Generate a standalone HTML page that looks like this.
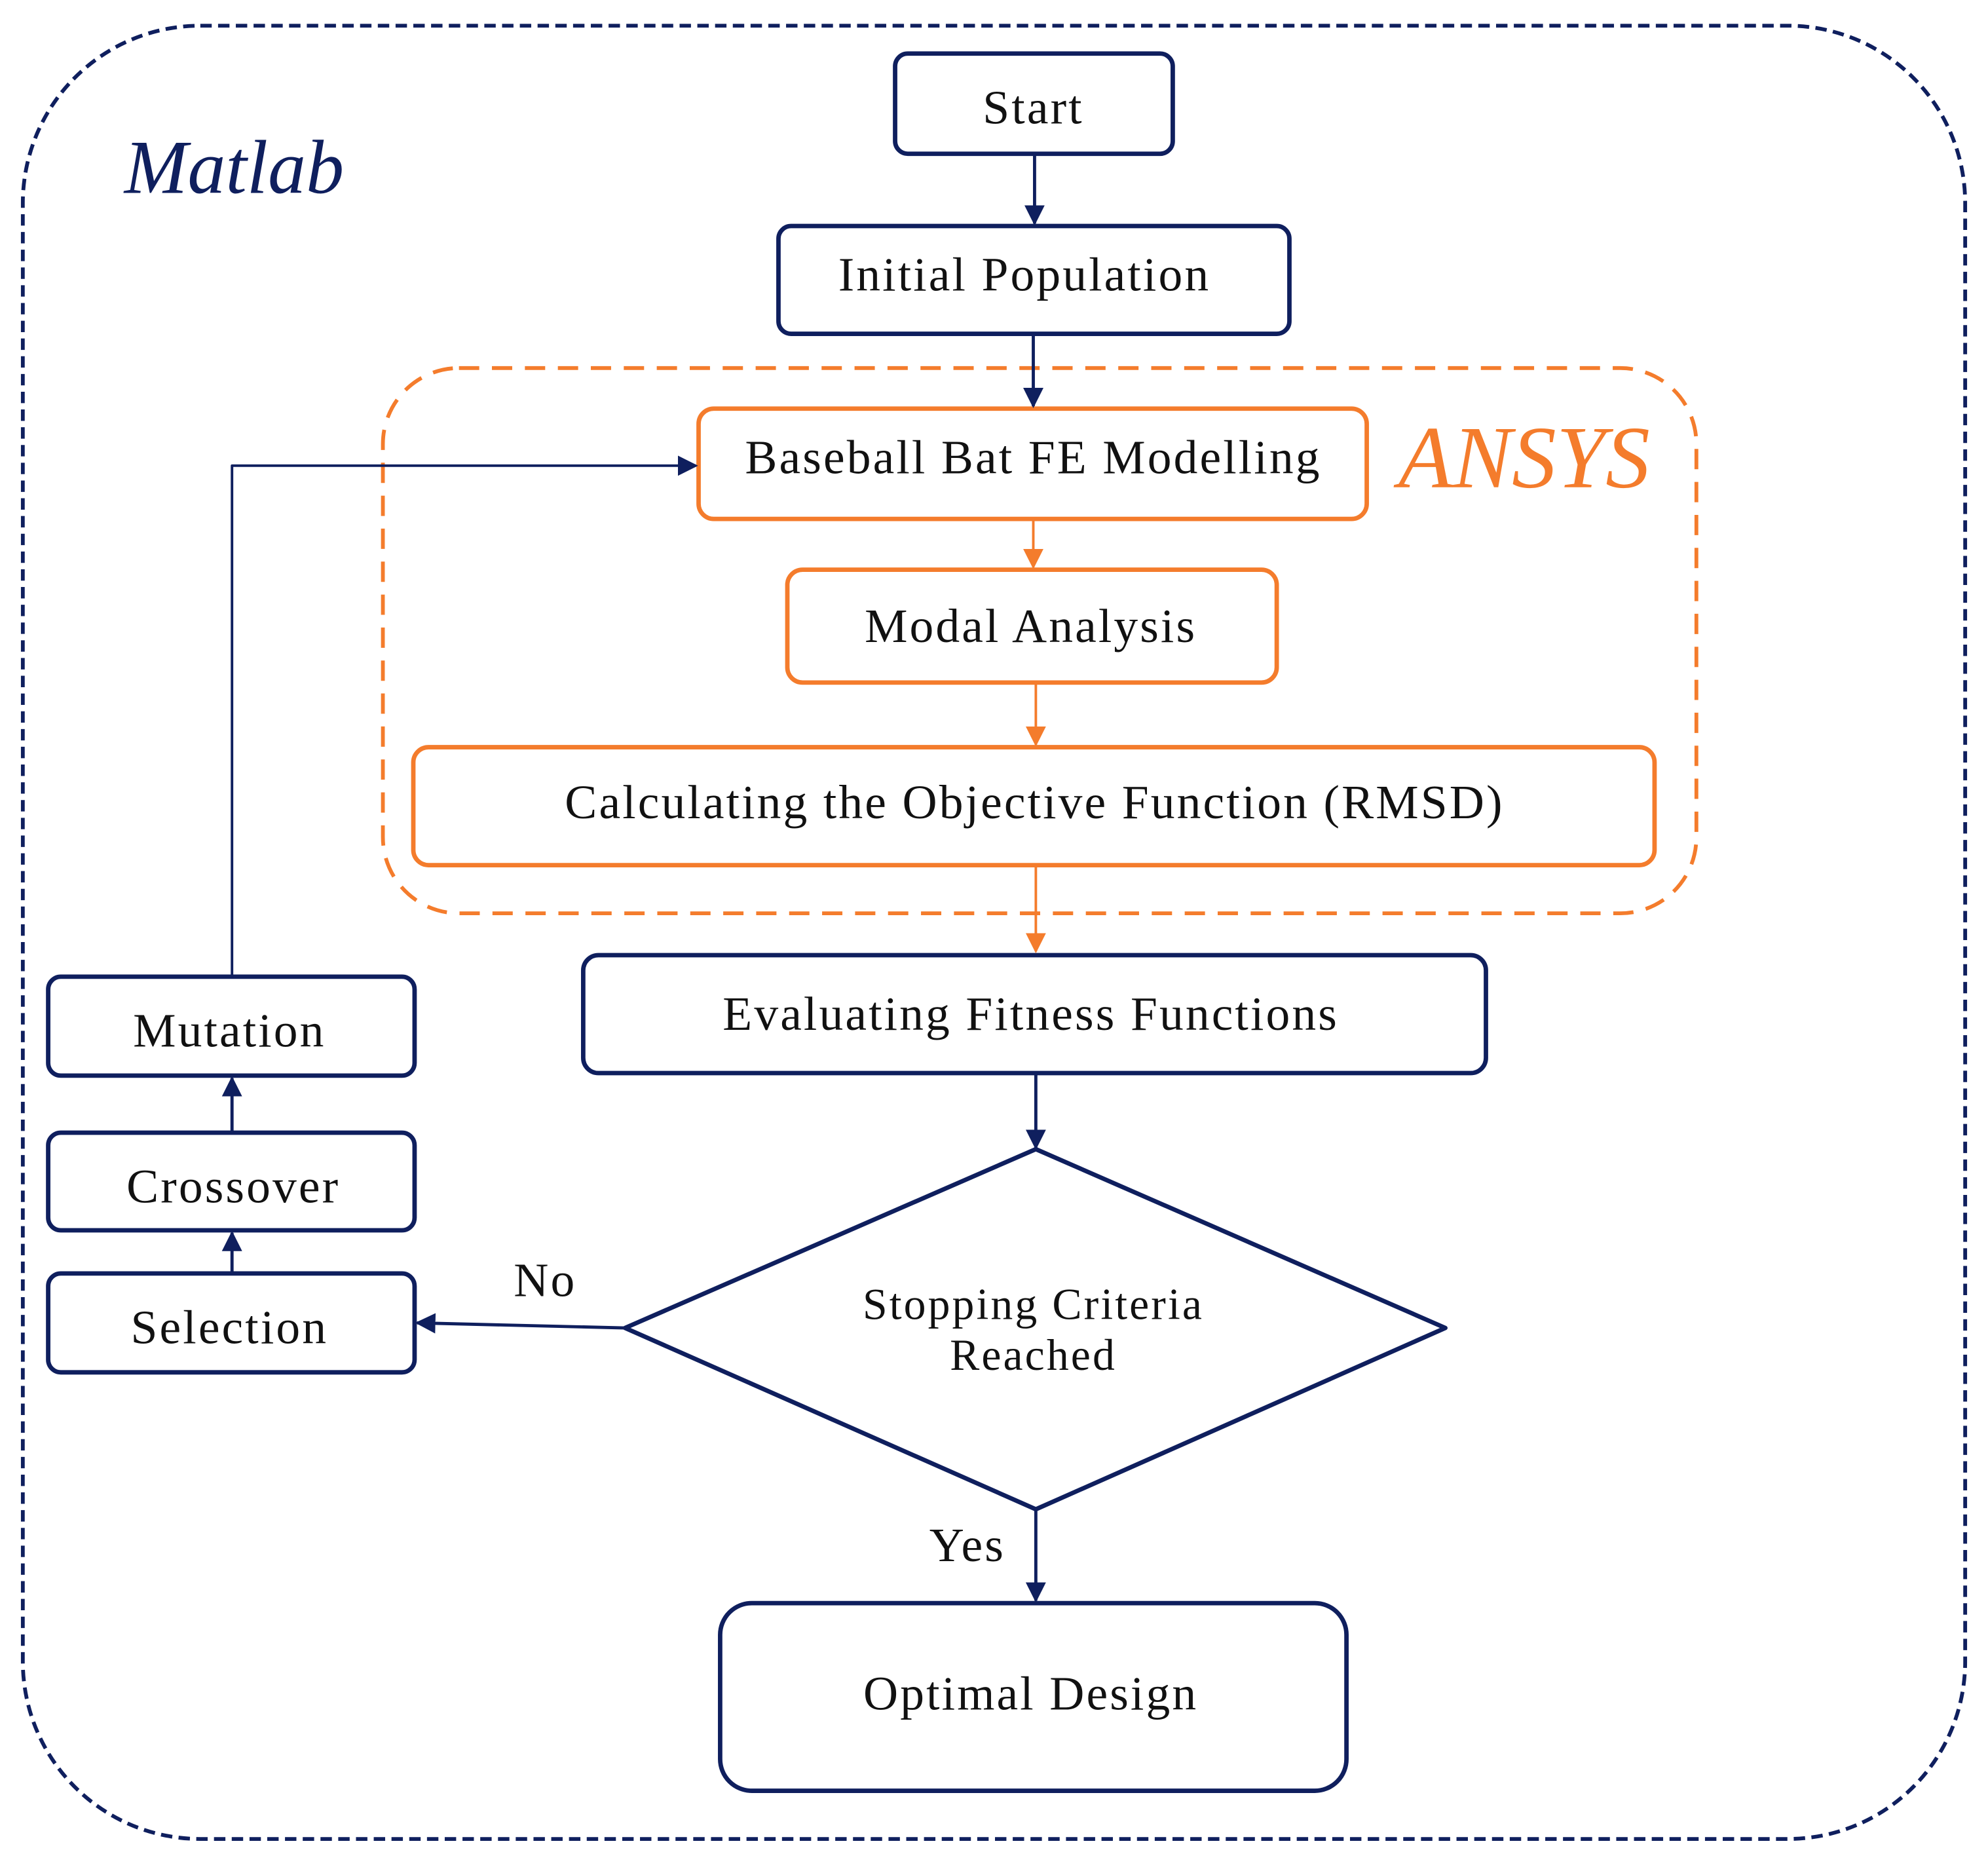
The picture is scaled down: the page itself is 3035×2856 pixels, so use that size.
<!DOCTYPE html>
<html><head><meta charset="utf-8"><style>html,body{margin:0;padding:0;background:#fff}svg{display:block}</style></head>
<body>
<svg width="3035" height="2856" viewBox="0 0 1568 1475" xmlns="http://www.w3.org/2000/svg" font-family="Liberation Serif, serif">
<defs>
<marker id="an" viewBox="0 0 10 10" refX="9" refY="5" markerWidth="16" markerHeight="16" orient="auto" markerUnits="userSpaceOnUse"><path d="M0,0 L10,5 L0,10 z" fill="#0f1f5e"/></marker>
<marker id="ao" viewBox="0 0 10 10" refX="9" refY="5" markerWidth="16" markerHeight="16" orient="auto" markerUnits="userSpaceOnUse"><path d="M0,0 L10,5 L0,10 z" fill="#f47c2c"/></marker>
</defs>
<g fill="none" stroke-linejoin="round">
<rect x="18" y="20" width="1532" height="1430" rx="140" stroke="#0f1f5e" stroke-width="3" stroke-dasharray="9,5"/>
<rect x="302" y="290" width="1036" height="430" rx="60" stroke="#f47c2c" stroke-width="3" stroke-dasharray="16,10"/>
<rect x="706" y="42" width="219" height="79" rx="10" stroke="#0f1f5e" stroke-width="3.5"/>
<rect x="614" y="178" width="403" height="85" rx="10" stroke="#0f1f5e" stroke-width="3.5"/>
<rect x="551" y="322" width="527" height="87" rx="12" stroke="#f47c2c" stroke-width="3.5"/>
<rect x="621" y="449" width="386" height="89" rx="12" stroke="#f47c2c" stroke-width="3.5"/>
<rect x="326" y="589" width="979" height="93" rx="12" stroke="#f47c2c" stroke-width="3.5"/>
<rect x="460" y="753" width="712" height="93" rx="12" stroke="#0f1f5e" stroke-width="3.5"/>
<path d="M817,906 L1140,1047 L817,1190 L493,1047 Z" stroke="#0f1f5e" stroke-width="3.5"/>
<rect x="568" y="1264" width="494" height="148" rx="25" stroke="#0f1f5e" stroke-width="3.5"/>
<rect x="38" y="1004" width="289" height="78" rx="10" stroke="#0f1f5e" stroke-width="3.5"/>
<rect x="38" y="893" width="289" height="77" rx="10" stroke="#0f1f5e" stroke-width="3.5"/>
<rect x="38" y="770" width="289" height="78" rx="10" stroke="#0f1f5e" stroke-width="3.5"/>
<g stroke="#0f1f5e" stroke-width="2.5">
<line x1="816" y1="121" x2="816" y2="176" marker-end="url(#an)"/>
<line x1="815" y1="263" x2="815" y2="320" marker-end="url(#an)"/>
<line x1="817" y1="846" x2="817" y2="905" marker-end="url(#an)"/>
<line x1="817" y1="1190" x2="817" y2="1262" marker-end="url(#an)"/>
<line x1="493" y1="1047" x2="329" y2="1043" marker-end="url(#an)"/>
<line x1="183" y1="1004" x2="183" y2="972" marker-end="url(#an)"/>
<line x1="183" y1="893" x2="183" y2="850" marker-end="url(#an)"/>
<polyline points="183,770 183,367 549,367" marker-end="url(#an)" stroke-width="2"/>
</g>
<g stroke="#f47c2c" stroke-width="2">
<line x1="815" y1="409" x2="815" y2="447" marker-end="url(#ao)"/>
<line x1="817" y1="538" x2="817" y2="587" marker-end="url(#ao)"/>
<line x1="817" y1="682" x2="817" y2="750" marker-end="url(#ao)"/>
</g>
</g>
<g fill="#111" font-size="38" text-anchor="middle" letter-spacing="1.6">
<text x="815" y="97">Start</text>
<text x="808" y="229">Initial Population</text>
<text x="815" y="373">Baseball Bat FE Modelling</text>
<text x="813" y="506">Modal Analysis</text>
<text x="816" y="645">Calculating the Objective Function (RMSD)</text>
<text x="813" y="812">Evaluating Fitness Functions</text>
<text x="815" y="1040" font-size="35">Stopping Criteria</text>
<text x="815" y="1080" font-size="35">Reached</text>
<text x="813" y="1348">Optimal Design</text>
<text x="181" y="1059">Selection</text>
<text x="184" y="948">Crossover</text>
<text x="181" y="825">Mutation</text>
<text x="430" y="1022">No</text>
<text x="763" y="1231">Yes</text>
</g>
<text x="98" y="152" font-size="60" font-style="italic" fill="#0f1f5e">Matlab</text>
<text x="1103" y="384" font-size="70" font-style="italic" fill="#f47c2c">ANSYS</text>
</svg>
</body></html>
